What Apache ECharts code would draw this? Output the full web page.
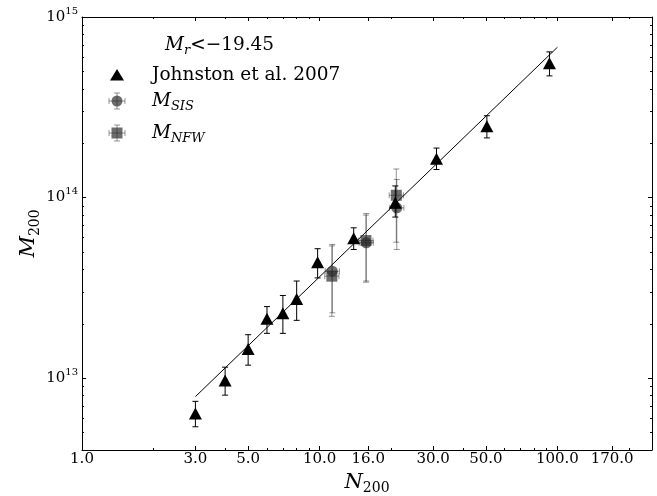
<!DOCTYPE html>
<html>
<head>
<meta charset="utf-8">
<script src="https://cdn.jsdelivr.net/npm/echarts@6/dist/echarts.min.js"></script>
<style>
html, body { margin: 0; padding: 0; background: #fff; }
#main { width: 657px; height: 496px; }
</style>
</head>
<body>
<div id="main"></div>
<script>
// Johnston et al. 2007 (triangles)
var nJohnston = [3.0, 4.0, 5.0, 6.0, 7.0, 8.0, 9.8, 13.9, 20.8, 31.0, 50.5, 92.6];
var mJohnston = [6.38e12, 9.71e12, 1.45e13, 2.13e13, 2.29e13, 2.74e13, 4.39e13, 5.96e13, 9.35e13, 1.64e14, 2.48e14, 5.55e14];
var mJohnstonLo = [5.38e12, 8.05e12, 1.18e13, 1.77e13, 1.77e13, 2.09e13, 3.59e13, 5.16e13, 7.8e13, 1.43e14, 2.14e14, 4.72e14];
var mJohnstonHi = [7.44e12, 1.15e13, 1.74e13, 2.49e13, 2.87e13, 3.45e13, 5.21e13, 6.80e13, 1.16e14, 1.88e14, 2.84e14, 6.41e14];

// M_SIS (circles)
var nSis = [11.3, 15.7, 21.1];
var nSisLo = [10.55, 14.65, 19.7];
var nSisHi = [12.1, 16.8, 22.6];
var mSis = [3.91e13, 5.62e13, 8.77e13];
var mSisLo = [2.3e13, 3.45e13, 5.16e13];
var mSisHi = [5.5e13, 8.16e13, 1.26e14];

// M_NFW (squares)
var nNfw = [11.25, 15.65, 21.0];
var nNfwLo = [10.5, 14.6, 19.6];
var nNfwHi = [12.05, 16.75, 22.5];
var mNfw = [3.67e13, 5.78e13, 1.03e14];
var mNfwLo = [2.2e13, 3.4e13, 5.66e13];
var mNfwHi = [5.4e13, 8.0e13, 1.44e14];

// power-law fit, end points
var fitN = [3, 100];
var fitM = [7.9e12, 6.8e14];

// ticks
var xMajor = [1, 3, 5, 10, 16, 30, 50, 100, 170];
var xMinor = [2, 4, 6, 7, 8, 9, 20, 40, 60, 70, 80, 90, 200];
var yMajor = [1e13, 1e14, 1e15];
var yMinor = [5e12, 6e12, 7e12, 8e12, 9e12, 2e13, 3e13, 4e13, 5e13, 6e13, 7e13, 8e13, 9e13,
              2e14, 3e14, 4e14, 5e14, 6e14, 7e14, 8e14, 9e14];

var serif = 'DejaVu Serif';
var grayFill = 'rgba(40,40,40,0.68)';
var grayBar = 'rgba(0,0,0,0.42)';

function rows(n, m, lo, hi, nlo, nhi) {
    return n.map(function(v, i) {
        return [v, m[i], lo[i], hi[i], nlo ? nlo[i] : v, nhi ? nhi[i] : v];
    });
}

// error bars drawn through the axes
function errRender(color, horiz) {
    return function(params, api) {
        var n = api.value(0), m = api.value(1);
        var a = api.coord([n, api.value(2)]);
        var b = api.coord([n, api.value(3)]);
        var st = { stroke: color, lineWidth: 1 };
        var kids = [
            { type: 'line', shape: { x1: a[0], y1: a[1], x2: b[0], y2: b[1] }, style: st },
            { type: 'line', shape: { x1: a[0] - 3, y1: a[1], x2: a[0] + 3, y2: a[1] }, style: st },
            { type: 'line', shape: { x1: b[0] - 3, y1: b[1], x2: b[0] + 3, y2: b[1] }, style: st }
        ];
        if (horiz) {
            var c = api.coord([api.value(4), m]);
            var d = api.coord([api.value(5), m]);
            kids.push({ type: 'line', shape: { x1: c[0], y1: c[1], x2: d[0], y2: d[1] }, style: st });
            kids.push({ type: 'line', shape: { x1: c[0], y1: c[1] - 3, x2: c[0], y2: c[1] + 3 }, style: st });
            kids.push({ type: 'line', shape: { x1: d[0], y1: d[1] - 3, x2: d[0], y2: d[1] + 3 }, style: st });
        }
        return { type: 'group', children: kids };
    };
}

function xAx(pos, vals, len, labels, line) {
    return {
        type: 'log', logBase: 10, min: 1, max: 250, position: pos,
        axisLine: { show: line, lineStyle: { color: '#000', width: 1 } },
        axisTick: { show: true, inside: true, length: len, customValues: vals, lineStyle: { color: '#000' } },
        axisLabel: labels ? {
            show: true, customValues: vals, margin: 2, color: '#000',
            fontFamily: serif, fontSize: 15, showMinLabel: true, showMaxLabel: true,
            formatter: function(v) { return Number(v).toFixed(1); }
        } : { show: false },
        splitLine: { show: false },
        minorTick: { show: false }
    };
}

function yAx(pos, vals, len, labels, line) {
    return {
        type: 'log', logBase: 10, min: 4e12, max: 1.00001e15, position: pos,
        axisLine: { show: line, lineStyle: { color: '#000', width: 1 } },
        axisTick: { show: true, inside: true, length: len, customValues: vals, lineStyle: { color: '#000' } },
        axisLabel: labels ? {
            show: true, customValues: vals, margin: 4, color: '#000',
            showMinLabel: true, showMaxLabel: true,
            formatter: function(v) {
                return '{b|10}{s|' + Math.round(Math.log10(v)) + '}';
            },
            rich: {
                b: { fontFamily: serif, fontSize: 15, lineHeight: 22, verticalAlign: 'middle', color: '#000' },
                s: { fontFamily: serif, fontSize: 10, lineHeight: 10, verticalAlign: 'top', color: '#000' }
            }
        } : { show: false },
        splitLine: { show: false },
        minorTick: { show: false }
    };
}

var xMain = xAx('bottom', xMajor, 4, true, true);
xMain.name = '{i|N}{s|200}';
xMain.nameLocation = 'middle';
xMain.nameGap = 17;
xMain.nameTextStyle = {
    rich: {
        i: { fontFamily: serif, fontStyle: 'italic', fontSize: 21, lineHeight: 26, verticalAlign: 'middle', color: '#000' },
        s: { fontFamily: serif, fontSize: 14, lineHeight: 14, verticalAlign: 'bottom', color: '#000' }
    }
};

var yMain = yAx('left', yMajor, 4, true, true);
yMain.name = '{i|M}{s|200}';
yMain.nameLocation = 'middle';
yMain.nameGap = 40;
yMain.nameRotate = 90;
yMain.nameMoveOverlap = false;
yMain.nameTextStyle = {
    rich: {
        i: { fontFamily: serif, fontStyle: 'italic', fontSize: 21, lineHeight: 26, verticalAlign: 'middle', color: '#000' },
        s: { fontFamily: serif, fontSize: 14, lineHeight: 14, verticalAlign: 'bottom', color: '#000' }
    }
};

var legendRich = {
    i: { fontFamily: serif, fontStyle: 'italic', fontSize: 18.5, lineHeight: 24, verticalAlign: 'middle', fill: '#000' },
    s: { fontFamily: serif, fontStyle: 'italic', fontSize: 13, lineHeight: 13, verticalAlign: 'bottom', fill: '#000' },
    n: { fontFamily: serif, fontSize: 18.5, lineHeight: 24, verticalAlign: 'middle', fill: '#000' }
};

function crossLines(cx, cy) {
    var st = { stroke: grayBar, lineWidth: 1 };
    return [
        { type: 'line', shape: { x1: cx - 8, y1: cy, x2: cx + 8, y2: cy }, style: st },
        { type: 'line', shape: { x1: cx, y1: cy - 8, x2: cx, y2: cy + 8 }, style: st },
        { type: 'line', shape: { x1: cx - 8, y1: cy - 3, x2: cx - 8, y2: cy + 3 }, style: st },
        { type: 'line', shape: { x1: cx + 8, y1: cy - 3, x2: cx + 8, y2: cy + 3 }, style: st },
        { type: 'line', shape: { x1: cx - 3, y1: cy - 8, x2: cx + 3, y2: cy - 8 }, style: st },
        { type: 'line', shape: { x1: cx - 3, y1: cy + 8, x2: cx + 3, y2: cy + 8 }, style: st }
    ];
}

var chart = echarts.init(document.getElementById('main'));
chart.setOption({
    animation: false,
    backgroundColor: '#fff',
    grid: { left: 82, right: 5, top: 17, bottom: 46, containLabel: false, outerBoundsMode: 'none' },
    xAxis: [
        xMain,
        xAx('bottom', xMinor, 2, false, false),
        xAx('top', xMajor, 4, false, true),
        xAx('top', xMinor, 2, false, false)
    ],
    yAxis: [
        yMain,
        yAx('left', yMinor, 2, false, false),
        yAx('right', yMajor, 4, false, true),
        yAx('right', yMinor, 2, false, false)
    ],
    graphic: [
        { type: 'text', x: 165, y: 45, style: { text: '{i|M}{s|r}{n|<\u221219.45}', rich: legendRich, verticalAlign: 'middle' } },
        { type: 'polygon', shape: { points: [[110, 80.5], [124, 80.5], [117, 69]] }, style: { fill: '#000' } },
        { type: 'text', x: 152, y: 75, style: { text: 'Johnston et al. 2007', font: '18.5px "DejaVu Serif"', fill: '#000', verticalAlign: 'middle' } },
        { type: 'group', children: crossLines(117, 101).concat([
            { type: 'circle', shape: { cx: 117, cy: 101, r: 5.5 }, style: { fill: grayFill } }
        ]) },
        { type: 'text', x: 152, y: 101, style: { text: '{i|M}{s|SIS}', rich: legendRich, verticalAlign: 'middle' } },
        { type: 'group', children: crossLines(117, 133).concat([
            { type: 'rect', shape: { x: 111.5, y: 127.5, width: 11, height: 11 }, style: { fill: grayFill } }
        ]) },
        { type: 'text', x: 152, y: 133, style: { text: '{i|M}{s|NFW}', rich: legendRich, verticalAlign: 'middle' } }
    ],
    series: [
        {
            type: 'line', name: 'fit', data: fitN.map(function(v, i) { return [v, fitM[i]]; }),
            showSymbol: false, symbol: 'none', lineStyle: { color: '#000', width: 1 }, z: 2
        },
        {
            type: 'custom', name: 'sis err', renderItem: errRender(grayBar, true),
            data: rows(nSis, mSis, mSisLo, mSisHi, nSisLo, nSisHi), z: 1
        },
        {
            type: 'custom', name: 'nfw err', renderItem: errRender(grayBar, true),
            data: rows(nNfw, mNfw, mNfwLo, mNfwHi, nNfwLo, nNfwHi), z: 1
        },
        {
            type: 'scatter', name: 'M_SIS', symbol: 'circle', symbolSize: 11,
            itemStyle: { color: grayFill, opacity: 1 }, data: nSis.map(function(v, i) { return [v, mSis[i]]; }), z: 3
        },
        {
            type: 'scatter', name: 'M_NFW', symbol: 'rect', symbolSize: 11,
            itemStyle: { color: grayFill, opacity: 1 }, data: nNfw.map(function(v, i) { return [v, mNfw[i]]; }), z: 3
        },
        {
            type: 'custom', name: 'johnston err', renderItem: errRender('#000', false),
            data: rows(nJohnston, mJohnston, mJohnstonLo, mJohnstonHi), z: 4
        },
        {
            type: 'scatter', name: 'Johnston et al. 2007', symbol: 'triangle', symbolSize: [13, 12],
            itemStyle: { color: '#000', opacity: 1 }, data: nJohnston.map(function(v, i) { return [v, mJohnston[i]]; }), z: 5
        }
    ]
});
</script>
</body>
</html>
